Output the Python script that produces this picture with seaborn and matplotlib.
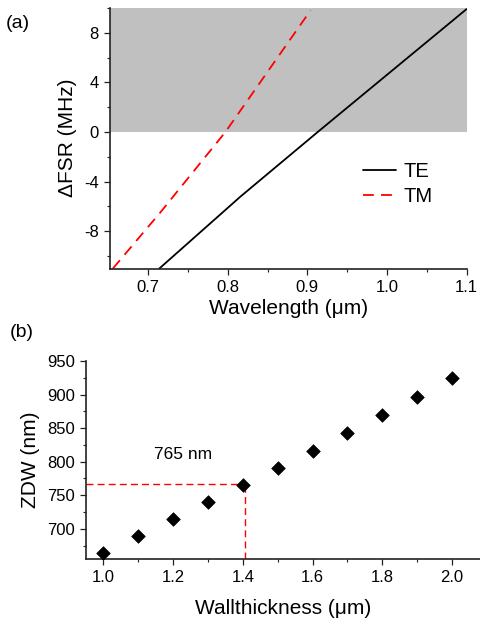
import numpy as np
import pandas as pd
import matplotlib
matplotlib.use("Agg")
import matplotlib.pyplot as plt
from matplotlib.ticker import MultipleLocator
import seaborn as sns

# panel (a): FSR mismatch vs wavelength
te_wavelength = [0.714, 0.816, 0.913, 1.1]
te_dfsr = [-11.0, -5.2, 0.0, 9.9]
tm_wavelength = [0.6556, 0.715, 0.797, 0.904]
tm_dfsr = [-11.0, -6.5, 0.0, 9.8]

# panel (b): zero dispersion wavelength vs wall thickness
wall_thickness = [1.0, 1.1, 1.2, 1.3, 1.4, 1.5, 1.6, 1.7, 1.8, 1.9, 2.0]
zdw = [664, 690, 714, 740, 765, 790, 816, 842, 869, 896, 924]
mark_x = 1.405
mark_y = 766
mark_label = "765 nm"

sns.set_style("ticks")
plt.rcParams["font.family"] = ["Liberation Sans", "DejaVu Sans"]
plt.rcParams["axes.unicode_minus"] = False
plt.rcParams["xtick.labelsize"] = 12
plt.rcParams["ytick.labelsize"] = 12
plt.rcParams["axes.labelsize"] = 15
plt.rcParams["text.color"] = "black"
plt.rcParams["axes.labelcolor"] = "black"
plt.rcParams["xtick.labelcolor"] = "black"
plt.rcParams["ytick.labelcolor"] = "black"

fig = plt.figure(figsize=(4.8, 6.22), dpi=100)
ax1 = fig.add_axes([0.2292, 0.5683, 0.7427, 0.419])
ax2 = fig.add_axes([0.179, 0.1013, 0.821, 0.3183])

# ---- (a)
ax1.axhspan(0, 10, color="#c0c0c0", lw=0, zorder=0)
df = pd.concat([
    pd.DataFrame({"wl": te_wavelength, "dfsr": te_dfsr, "mode": "TE"}),
    pd.DataFrame({"wl": tm_wavelength, "dfsr": tm_dfsr, "mode": "TM"}),
])
sns.lineplot(data=df, x="wl", y="dfsr", hue="mode", style="mode",
             palette={"TE": "black", "TM": "red"},
             dashes={"TE": "", "TM": (6, 4)}, linewidth=1.3, ax=ax1)
ax1.set_xlim(0.652, 1.1)
ax1.set_ylim(-11, 10)
ax1.xaxis.set_major_locator(MultipleLocator(0.1))
ax1.xaxis.set_minor_locator(MultipleLocator(0.05))
ax1.set_yticks([-8, -4, 0, 4, 8])
ax1.yaxis.set_minor_locator(MultipleLocator(2))
ax1.set_xlabel("Wavelength (μm)", labelpad=3)
ax1.set_ylabel("ΔFSR (MHz)", labelpad=5)
handles, labels = ax1.get_legend_handles_labels()
ax1.legend(handles, labels, loc="center left", bbox_to_anchor=(0.71, 0.324),
           frameon=False, fontsize=14.5, borderpad=0, borderaxespad=0,
           handlelength=1.65, handletextpad=0.35, labelspacing=0.3)

# ---- (b)
sns.scatterplot(x=wall_thickness, y=zdw, marker="D", s=48, color="black",
                edgecolor="black", linewidth=0.5, ax=ax2, zorder=3)
ax2.set_xlim(0.95, 2.08)
ax2.set_ylim(655, 950)
ax2.plot([0.95, mark_x], [mark_y, mark_y], color="red", lw=1.0, dashes=(5, 3), zorder=2)
ax2.plot([mark_x, mark_x], [655, mark_y], color="red", lw=1.0, dashes=(5, 3), zorder=2)
ax2.text(1.228, 811, mark_label, fontsize=12.5, ha="center", va="center")
ax2.xaxis.set_major_locator(MultipleLocator(0.2))
ax2.xaxis.set_minor_locator(MultipleLocator(0.1))
ax2.yaxis.set_major_locator(MultipleLocator(50))
ax2.yaxis.set_minor_locator(MultipleLocator(25))
ax2.set_xlabel("Wallthickness (μm)", labelpad=10)
ax2.set_ylabel("ZDW (nm)", labelpad=5)

for ax in (ax1, ax2):
    sns.despine(ax=ax)
    for s in ("left", "bottom"):
        ax.spines[s].set_linewidth(1.2)
        ax.spines[s].set_color("#222222")
    ax.tick_params(which="major", direction="out", length=4.5, width=0.9, color="#222222")
    ax.tick_params(which="minor", direction="out", length=2.5, width=0.8, color="#222222")

fig.text(0.012, 0.963, "(a)", fontsize=14, va="center")
fig.text(0.02, 0.466, "(b)", fontsize=14, va="center")

fig.savefig("out.png", dpi=100)
